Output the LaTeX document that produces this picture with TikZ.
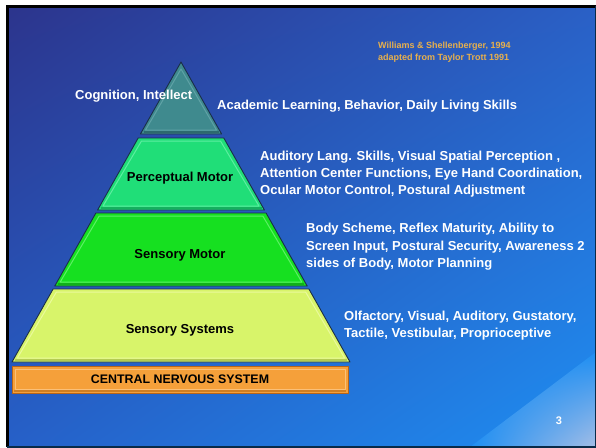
\documentclass[tikz,border=0pt]{standalone}
\usepackage{fontspec}
\setmainfont{Liberation Sans}
\usetikzlibrary{shadings}
\definecolor{bgTL}{HTML}{2C348C}
\definecolor{bgTR}{HTML}{2A60C6}
\definecolor{bgBL}{HTML}{2660C8}
\definecolor{bgBR}{HTML}{1E8EF2}
\definecolor{streak}{HTML}{A4BEE6}
\definecolor{tealL}{HTML}{3F8A8E}
\definecolor{tealE}{HTML}{5FA2A6}
\definecolor{tealD}{HTML}{2C6A6E}
\definecolor{pmL}{HTML}{20DE78}
\definecolor{pmE}{HTML}{5CEEA0}
\definecolor{pmD}{HTML}{14B05E}
\definecolor{smL}{HTML}{16E020}
\definecolor{smE}{HTML}{5CF064}
\definecolor{smD}{HTML}{10B018}
\definecolor{ssL}{HTML}{D8F46A}
\definecolor{ssE}{HTML}{EAFA9C}
\definecolor{ssD}{HTML}{B4CC52}
\definecolor{cnsL}{HTML}{F5A03A}
\definecolor{cnsE}{HTML}{FBC078}
\definecolor{cnsB}{HTML}{D07E22}
\definecolor{cnsD}{HTML}{B86418}
\definecolor{edge}{HTML}{1A2E48}
\definecolor{cite}{HTML}{E8B04C}
\begin{document}
\begin{tikzpicture}[x=1pt,y=-1pt,
  layer/.style={draw=edge, line width=0.9pt, line join=round},
  bevel/.style={line width=1pt, line join=round},
  shadowline/.style={line width=1.6pt},
  lbl/.style={font=\bfseries\fontsize{13}{15}\selectfont, text=black, inner sep=0pt, anchor=base},
  side/.style={font=\bfseries\fontsize{13}{15}\selectfont, text=white, anchor=base west, inner sep=0pt},
  citetext/.style={font=\bfseries\fontsize{9}{11}\selectfont, text=cite, anchor=base west, inner sep=0pt}]
\useasboundingbox (0,0) rectangle (596,447);
\fill[white] (0,0) rectangle (596,447);
% background
\shade[upper left=bgTL, upper right=bgTR, lower left=bgBL, lower right=bgBR] (7,6) rectangle (596,447);
\begin{scope}
  \clip (470,447) -- (596,352) -- (596,447) -- cycle;
  \shade[upper left=bgBR, upper right=bgBR, lower left=bgBR, lower right=streak] (470,352) rectangle (596,447);
\end{scope}
\draw[black, line width=3pt] (7,447) -- (7,6) -- (596,6);
\draw[black!70!bgBR, line width=1.5pt] (596,6) -- (596,447) -- (7,447);
% layer 1: teal triangle
\filldraw[layer, fill=tealL] (181,62) -- (221.6,134) -- (140.4,134) -- cycle;
\draw[shadowline, tealD] (143.5,131.8) -- (218.5,131.8);
\draw[bevel, tealE] (181,69) -- (216.5,130) -- (145.5,130) -- cycle;
% layer 2
\filldraw[layer, fill=pmL] (138.2,138) -- (223.8,138) -- (264.4,210) -- (97.6,210) -- cycle;
\draw[shadowline, pmD] (100.5,207.8) -- (261.5,207.8);
\draw[bevel, pmE] (141.5,141) -- (220.5,141) -- (259,206) -- (103,206) -- cycle;
% layer 3
\filldraw[layer, fill=smL] (95.9,213) -- (266.1,213) -- (307.2,286) -- (54.8,286) -- cycle;
\draw[shadowline, smD] (57.7,283.8) -- (304.3,283.8);
\draw[bevel, smE] (99.2,216) -- (262.8,216) -- (301.8,282) -- (60.2,282) -- cycle;
% layer 4
\filldraw[layer, fill=ssL] (53.1,289) -- (308.9,289) -- (350,362) -- (12,362) -- cycle;
\draw[shadowline, ssD] (15,359.8) -- (347,359.8);
\draw[bevel, ssE] (56.4,292) -- (305.6,292) -- (344.6,358) -- (17.4,358) -- cycle;
% CNS bar
\filldraw[draw=cnsD, line width=0.9pt, fill=cnsL] (12,366) rectangle (348,393);
\draw[shadowline, cnsB] (14,390.8) -- (346,390.8);
\draw[bevel, cnsE] (15,369) rectangle (345,389.5);
% labels inside pyramid
\node[lbl] (pm) at (180,181) {Perceptual Motor};
\node[lbl] (sm) at (180,258.5) {Sensory Motor};
\node[lbl] (ss) at (180,333.3) {Sensory Systems};
\node[lbl, font=\bfseries\fontsize{12.4}{15}\selectfont] (cns) at (180,383.7) {CENTRAL NERVOUS SYSTEM};
% side texts
\node[side] (cog) at (75,99) {Cognition, Intellect};
\node[side] (acad) at (217,109.5) {Academic Learning, Behavior, Daily Living Skills};
\node[side] (aud1) at (260,160) {Auditory Lang. Skills, Visual Spatial Perception ,};
\node[side] (aud2) at (260,177.2) {Attention Center Functions, Eye Hand Coordination,};
\node[side] (aud3) at (260,194.4) {Ocular Motor Control, Postural Adjustment};
\node[side] (body1) at (306,232.5) {Body Scheme, Reflex Maturity, Ability to};
\node[side] (body2) at (306,250.2) {Screen Input, Postural Security, Awareness 2};
\node[side] (body3) at (306,267.8) {sides of Body, Motor Planning};
\node[side] (olf1) at (344,320) {Olfactory, Visual, Auditory, Gustatory,};
\node[side] (olf2) at (344,337.7) {Tactile, Vestibular, Proprioceptive};
\node[citetext] (cit1) at (378,48.3) {Williams \& Shellenberger, 1994};
\node[citetext] (cit2) at (378,60) {adapted from Taylor Trott 1991};
\node[font=\bfseries\fontsize{11}{12}\selectfont, text=white, inner sep=0pt, anchor=base] (pg) at (559,424) {3};
\end{tikzpicture}
\end{document}
